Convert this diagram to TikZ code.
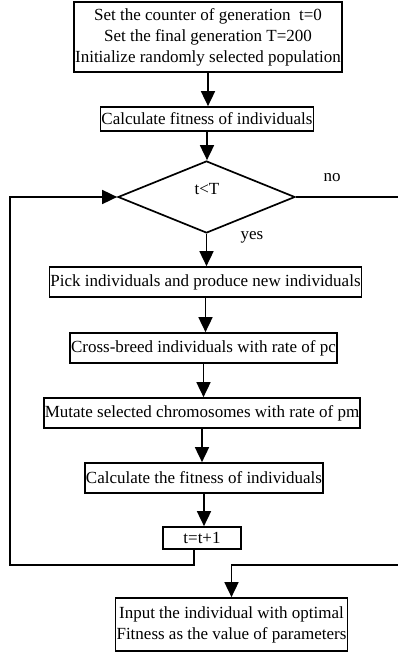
\documentclass[tikz,border=0pt]{standalone}
\usepackage{fontspec}
\setmainfont{Liberation Serif}
\usetikzlibrary{arrows.meta,shapes.geometric}
\begin{document}
\begin{tikzpicture}[x=1pt,y=-1pt,
  every node/.style={font=\fontsize{17}{21}\selectfont},
  box/.style={draw,line width=1.7pt,inner xsep=1pt,inner ysep=0pt,align=center},
  arr/.style={line width=1.7pt,-{Triangle[length=15pt,width=14pt]}},
  ln/.style={line width=1.7pt}]
\useasboundingbox (0,0) rectangle (398,652);
\node[box,minimum width=268,minimum height=70] (b1) at (208,37)
  {Set the counter of generation\ \ t=0\\Set the final generation T=200\\Initialize randomly selected population};
\node[box,minimum width=212,minimum height=24] (b2) at (207,119) {Calculate fitness of individuals};
\node[draw,line width=1.7pt,diamond,minimum width=177,minimum height=72,inner sep=0pt] (d) at (206.5,197) {};
\node (dt) at (207,189) {t<T};
\node (no) at (332,178) {no};
\node (yes) at (252,237) {yes};
\node[box,minimum width=311,minimum height=30] (b3) at (205.5,282) {Pick individuals and produce new individuals};
\node[box,minimum width=265,minimum height=30] (b4) at (203.5,348) {Cross-breed individuals with rate of pc};
\node[box,minimum width=314,minimum height=30] (b5) at (202,413) {Mutate selected chromosomes with rate of pm};
\node[box,minimum width=236,minimum height=30] (b6) at (204,478) {Calculate the fitness of individuals};
\node[box,minimum width=78,minimum height=22] (b7) at (202,538) {t=t+1};
\node[box,minimum width=231,minimum height=53] (b8) at (231.5,624.5)
  {Input the individual with optimal\\Fitness as the value of parameters};
\coordinate (lc) at (10,565);
\coordinate (rc) at (399.5,565);
\draw[arr] (b1.south) -- (b1.south |- b2.north);
\draw[arr] (b2.south) -- (b2.south |- d.north);
\draw[arr] (d.south) -- (d.south |- b3.north);
\draw[arr] (b3.south) -- (b3.south |- b4.north);
\draw[arr] (b4.south) -- (b4.south |- b5.north);
\draw[arr] (b5.south) -- (b5.south |- b6.north);
\draw[arr] (b6.south) -- (b6.south |- b7.north);
\draw[arr] ([xshift=-8pt]b7.south) |- (lc) |- (d.west);
\draw[arr] (d.east) -| (rc) -| (b8.north);
\end{tikzpicture}
\end{document}
